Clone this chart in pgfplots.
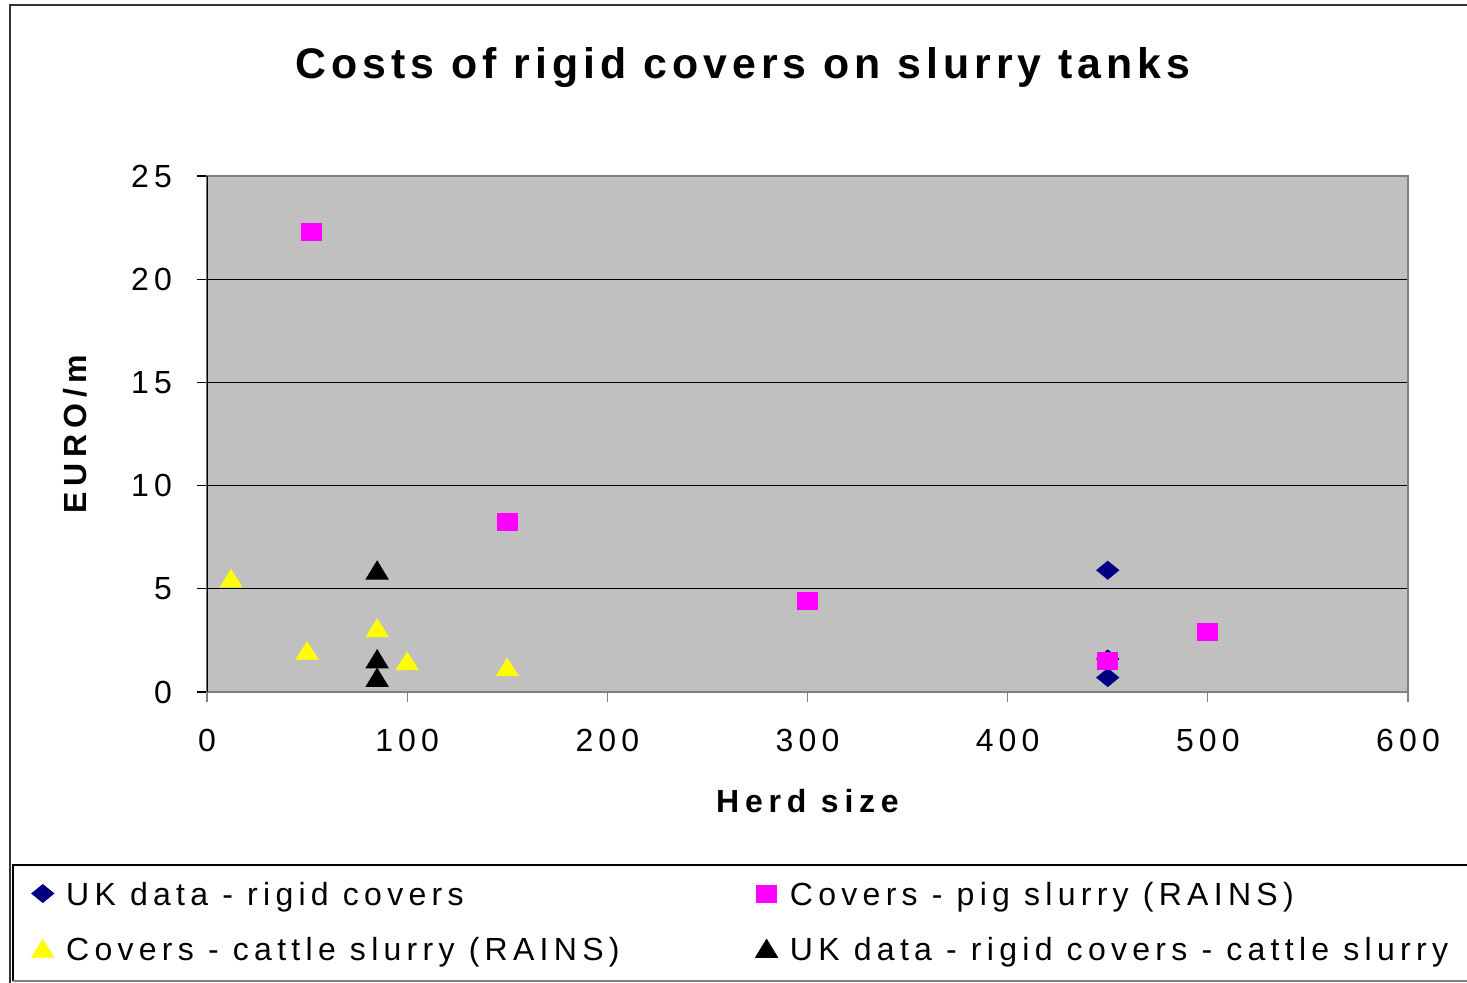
\documentclass[border=0pt]{standalone}
\usepackage{fontspec}
\setmainfont{Liberation Sans}
\usepackage{pgfplots}
\pgfplotsset{compat=1.18}

% spaced-out Arial-like faces
\newfontfamily\titlefont[LetterSpace=11.7]{Liberation Sans}
\newfontfamily\tickfont[LetterSpace=16]{Liberation Sans}
\newfontfamily\labfont[LetterSpace=18]{Liberation Sans}
\newfontfamily\legfont[LetterSpace=16.5]{Liberation Sans}

\definecolor{ukblue}{HTML}{000080}
\definecolor{pigmag}{HTML}{FF00FF}
\definecolor{cattleyel}{HTML}{FFFF00}
\definecolor{plotgray}{HTML}{C0C0C0}
\definecolor{bordergray}{HTML}{808080}

\newcommand{\legtext}[1]{\makebox[344.5pt][l]{\legfont #1}}

\begin{document}
\begin{tikzpicture}[x=1pt,y=1pt]
\useasboundingbox (-103.5,-145.5) rectangle (630,346);
% chart frame
\draw[line width=0.7pt, black!80] (-98.5,-150) -- (-98.5,343.5) -- (640,343.5);
% legend frame
\draw[line width=0.6pt, black] (640,-86.5) -- (-97,-86.5) -- (-97,-144.5);
\draw[line width=0.9pt, bordergray] (-97,-144.5) -- (640,-144.5);

\begin{axis}[
  at={(0,0)}, anchor=south west,
  scale only axis, width=600.5pt, height=258pt,
  xmin=0, xmax=600, ymin=0, ymax=25,
  xtick={0,100,...,600}, ytick={0,5,...,25},
  xtick pos=bottom, ytick pos=left,
  ymajorgrids, grid style={black, line width=0.5pt},
  axis background/.style={fill=plotgray},
  axis line style={draw=bordergray, line width=1.2pt},
  tick align=outside,
  x tick style={draw=bordergray, line width=0.6pt},
  y tick style={draw=black, line width=0.6pt},
  major tick length=5pt,
  /pgf/number format/assume math mode=true,
  tick label style={font=\tickfont\fontsize{16}{19}\selectfont},
  xticklabel style={anchor=north, yshift=-10pt},
  yticklabel style={anchor=east, xshift=-9pt},
  xlabel={\labfont\bfseries Herd size},
  ylabel={\labfont\bfseries EURO/m},
  label style={font=\fontsize{16}{19}\selectfont},
  xlabel style={at={(axis description cs:0.5,0)}, anchor=center, yshift=-54.5pt},
  ylabel style={at={(axis description cs:-0.1099,0.5)}, anchor=center},
  legend columns=2,
  legend style={at={(axis description cs:-0.14655,-0.36686)}, anchor=north west,
    draw=none, fill=none, inner sep=0pt, row sep=12.4pt,
    nodes={inner sep=0pt, text height=11.7pt, text depth=3.4pt, anchor=base west},
    font=\fontsize{16}{19}\selectfont,
    /tikz/every odd column/.append style={column sep=6pt},
    /tikz/every even column/.append style={column sep=0pt}},
  legend cell align=left,
  legend image code/.code={\path (0pt,0pt) (11pt,0pt);
    \draw[#1] plot coordinates {(5.5pt,5.8pt)};},
]
% UK data - rigid covers
\addplot[only marks, mark=diamond*, mark size=5pt,
  mark options={draw=ukblue, fill=ukblue, xscale=1.47, yscale=0.9}]
  coordinates {(450,5.9) (450,1.6) (450,0.7)};
\addlegendentry{\legtext{UK data - rigid covers}}
% Covers - pig slurry (RAINS)
\addplot[only marks, mark=square*, mark size=5pt,
  mark options={draw=pigmag, fill=pigmag, yscale=0.84}]
  coordinates {(52,22.3) (150,8.25) (300,4.42) (450,1.5) (500,2.9)};
\addlegendentry{\legtext{Covers - pig slurry (RAINS)}}
% Covers - cattle slurry (RAINS)
\addplot[only marks, mark=triangle*, mark size=6.35pt,
  mark options={draw=cattleyel, fill=cattleyel, yscale=0.92, yshift=-1.5pt}]
  coordinates {(12,5.5) (50,2.0) (85,3.1) (100,1.5) (150,1.2)};
\addlegendentry{\legtext{Covers - cattle slurry (RAINS)}}
% UK data - rigid covers - cattle slurry
\addplot[only marks, mark=triangle*, mark size=6.35pt,
  mark options={draw=black, fill=black, yscale=0.95, yshift=-1.5pt}]
  coordinates {(85,5.9) (85,1.6) (85,0.7)};
\addlegendentry{\legtext{UK data - rigid covers - cattle slurry}}
% black value axis over the grey frame
\draw[black, line width=0.6pt] (rel axis cs:0,0) -- (rel axis cs:0,1);
\end{axis}

\node[font=\titlefont\bfseries\fontsize{21.4}{25}\selectfont, anchor=center]
  at (268,312) {Costs of rigid covers on slurry tanks};
\end{tikzpicture}
\end{document}
